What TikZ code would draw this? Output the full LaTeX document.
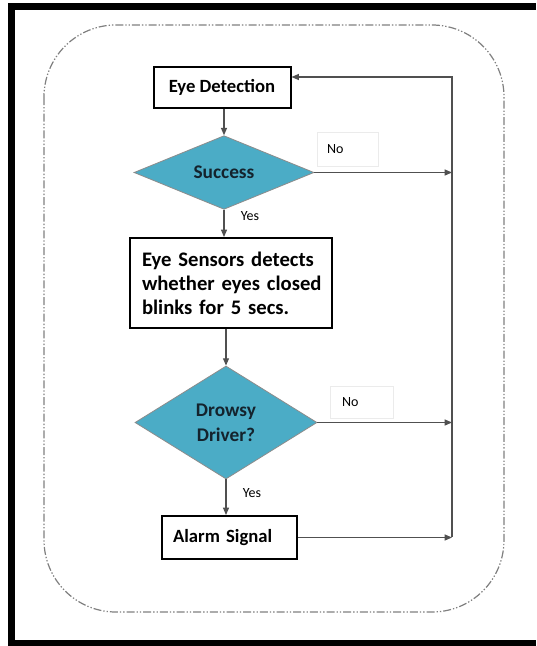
\documentclass[tikz,border=0pt]{standalone}
\usepackage{fontspec}
\setmainfont{Carlito}
\usetikzlibrary{shapes.geometric,arrows.meta}
\definecolor{diafill}{RGB}{75,172,198}
\definecolor{conn}{RGB}{80,80,80}
\definecolor{dtext}{RGB}{20,35,45}
\tikzset{
  box/.style={draw=black,line width=1.5pt,fill=white,rectangle,inner sep=0pt,
    font=\bfseries\fontsize{14}{18}\selectfont},
  dia/.style={diamond,draw=black!45,line width=0.6pt,fill=diafill,inner sep=0pt,
    text=dtext,font=\bfseries\fontsize{14.5}{18.5}\selectfont,align=center},
  lbl/.style={rectangle,draw=black!8,line width=0.5pt,fill=white,inner ysep=0pt,
    align=left,font=\fontsize{10.5}{12}\selectfont},
  yes/.style={font=\fontsize{10.5}{12}\selectfont,inner sep=0pt},
  arr/.style={draw=conn,line width=0.8pt,-{Triangle[length=5.5pt,width=4.5pt]}},
  frame/.style={draw=black!50,line width=0.9pt,
    dash pattern=on 6pt off 1.5pt on 1pt off 1.5pt on 1pt off 1.5pt}
}
\begin{document}
\begin{tikzpicture}[x=0.75pt,y=-0.75pt]
\useasboundingbox (0,0) rectangle (536,646);
\fill[white] (0,0) rectangle (536,646);
% thick black border (top, left, bottom)
\fill[black] (8,3) rectangle (536,10);
\fill[black] (8,3) rectangle (15,646);
\fill[black] (8,640) rectangle (536,646);
% dash-dot rounded frame
\draw[frame,rounded corners=54pt] (44,25) rectangle (504,612);

% nodes
\node[box,minimum width=102.75pt,minimum height=30.75pt] (ed) at (222,87.5) {Eye Detection};
\node[dia,minimum width=135pt,minimum height=41.25pt] (s) at (224,172.5) {Success};
\node[box,minimum width=151.5pt,minimum height=67.5pt,text width=133.5pt,align=left,
  font=\bfseries\fontsize{15.5}{18}\selectfont] (sb) at (231,283)
  {\makebox[133.5pt][s]{Eye Sensors detects}\\\makebox[133.5pt][s]{whether eyes closed}\\blinks for 5 secs.};
\node[dia,minimum width=136.5pt,minimum height=84.75pt] (d) at (226,422.5) {Drowsy\\Driver?};
\node[box,minimum height=32.25pt,inner xsep=8.25pt,text width=84.75pt,align=left] (al) at (229.5,537.5) {Alarm Signal};

\node[lbl,minimum height=25.5pt,inner xsep=7.5pt,text width=30.75pt] (no1) at (347.5,149) {No};
\node[lbl,minimum height=24pt,inner xsep=9pt,text width=29.25pt] (no2) at (361.5,402) {No};
\node[yes] (y1) at (250,216) {Yes};
\node[yes] (y2) at (252,493) {Yes};

\coordinate (rt) at (452,77);
\coordinate (rb) at (452,537);

% connectors
\draw[arr] (ed.south -| s.north) -- (s.north);
\draw[arr] (s.south) -- (s.south |- sb.north);
\draw[arr] (sb.south -| d.north) -- (d.north);
\draw[arr] (d.south) -- (d.south |- al.north);
\draw[arr] (s.east) -- (s.east -| rt);
\draw[arr] (d.east) -- (d.east -| rt);
\draw[arr] (al.east) -- (al.east -| rt);
\draw[arr] (rb) -- (rt) -- (ed.east |- rt);
\end{tikzpicture}
\end{document}
